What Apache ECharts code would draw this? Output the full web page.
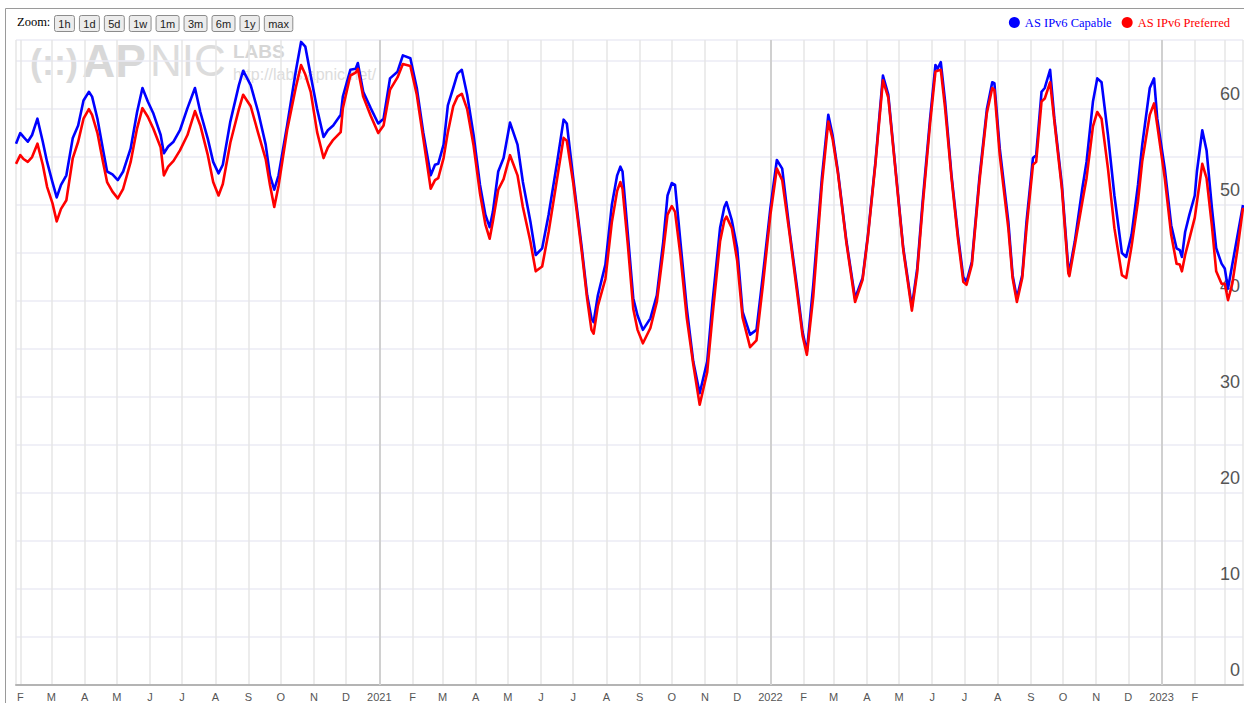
<!DOCTYPE html>
<html>
<head>
<meta charset="utf-8">
<title>AS IPv6 Capable / Preferred</title>
<script src="https://cdn.jsdelivr.net/npm/echarts@6.0.0/dist/echarts.min.js"></script>
<style>
  html, body { margin: 0; padding: 0; background: #fff; }
  #chart { width: 1244px; height: 703px; }
</style>
</head>
<body>
<div id="chart"></div>
<script>
// sample dates (at peaks, troughs and turns)
var dates = [
  '2020-01-28','2020-02-01','2020-02-04','2020-02-08','2020-02-12','2020-02-17','2020-02-22','2020-02-26',
  '2020-03-02','2020-03-06','2020-03-10','2020-03-15','2020-03-21','2020-03-26','2020-03-31','2020-04-05',
  '2020-04-08','2020-04-13','2020-04-18','2020-04-22','2020-04-27','2020-05-02','2020-05-07','2020-05-14',
  '2020-05-20','2020-05-25','2020-05-30','2020-06-04','2020-06-11','2020-06-14','2020-06-18','2020-06-23',
  '2020-06-29','2020-07-06','2020-07-13','2020-07-18','2020-07-25','2020-07-30','2020-08-04','2020-08-08',
  '2020-08-15','2020-08-23','2020-08-27','2020-09-03','2020-09-10','2020-09-17','2020-09-21','2020-09-25',
  '2020-09-29','2020-10-07','2020-10-15','2020-10-20','2020-10-24','2020-10-29','2020-11-04','2020-11-10',
  '2020-11-14','2020-11-19','2020-11-26','2020-11-28','2020-12-05','2020-12-10','2020-12-12','2020-12-17',
  '2020-12-24','2020-12-31','2021-01-05','2021-01-11','2021-01-18','2021-01-23','2021-01-30','2021-02-05',
  '2021-02-11','2021-02-18','2021-02-22','2021-02-25','2021-03-02','2021-03-06','2021-03-11','2021-03-15',
  '2021-03-19','2021-03-24','2021-03-30','2021-04-05','2021-04-10','2021-04-14','2021-04-17','2021-04-22',
  '2021-04-27','2021-05-03','2021-05-10','2021-05-15','2021-05-22','2021-05-27','2021-06-02','2021-06-08',
  '2021-06-16','2021-06-22','2021-06-25','2021-07-01','2021-07-09','2021-07-14','2021-07-18','2021-07-20',
  '2021-07-24','2021-07-31','2021-08-06','2021-08-11','2021-08-14','2021-08-16','2021-08-21','2021-08-26',
  '2021-08-30','2021-09-04','2021-09-11','2021-09-17','2021-09-23','2021-09-27','2021-10-01','2021-10-04',
  '2021-10-09','2021-10-15','2021-10-21','2021-10-27','2021-11-03','2021-11-08','2021-11-15','2021-11-19',
  '2021-11-21','2021-11-26','2021-12-01','2021-12-06','2021-12-13','2021-12-19','2021-12-25','2022-01-01',
  '2022-01-07','2022-01-12','2022-01-19','2022-01-26','2022-01-31','2022-02-04','2022-02-10','2022-02-18',
  '2022-02-24','2022-02-28','2022-03-05','2022-03-13','2022-03-21','2022-03-28','2022-04-02','2022-04-09',
  '2022-04-16','2022-04-21','2022-04-25','2022-05-05','2022-05-13','2022-05-18','2022-05-23','2022-05-30',
  '2022-06-04','2022-06-06','2022-06-09','2022-06-13','2022-06-19','2022-06-25','2022-06-30','2022-07-03',
  '2022-07-08','2022-07-15','2022-07-22','2022-07-27','2022-07-29','2022-08-03','2022-08-11','2022-08-15',
  '2022-08-19','2022-08-24','2022-08-28','2022-09-03','2022-09-06','2022-09-11','2022-09-14','2022-09-19',
  '2022-09-23','2022-09-30','2022-10-06','2022-10-07','2022-10-12','2022-10-19','2022-10-23','2022-10-29',
  '2022-11-02','2022-11-06','2022-11-12','2022-11-18','2022-11-25','2022-11-29','2022-12-04','2022-12-10',
  '2022-12-14','2022-12-21','2022-12-25','2022-12-28','2023-01-04','2023-01-10','2023-01-15','2023-01-18',
  '2023-01-20','2023-01-23','2023-01-27','2023-02-01','2023-02-03','2023-02-08','2023-02-12','2023-02-17',
  '2023-02-21','2023-02-26','2023-03-01','2023-03-04','2023-03-08','2023-03-13','2023-03-18'
];

var capable = [
  56.4,57.5,57.1,56.6,57.3,59.0,56.6,54.5, 52.4,50.8,52.1,53.1,57.0,58.3,60.9,61.8,
  61.3,59.0,55.9,53.5,53.2,52.6,53.5,55.9, 59.7,62.2,60.8,59.6,57.3,55.4,56.1,56.6,
  57.8,60.1,62.2,59.7,56.9,54.5,53.3,54.2, 58.7,62.5,64.0,62.5,59.7,56.3,53.1,51.6,
  53.1,58.3,63.9,67.0,66.5,63.5,60.0,57.1, 57.8,58.3,59.4,61.3,64.1,64.2,64.8,61.8,
  60.1,58.5,59.0,63.2,63.9,65.6,65.3,62.2, 57.6,53.1,54.2,54.3,56.3,60.4,62.2,63.7,
  64.1,61.5,57.3,52.1,49.0,47.7,49.3,53.5, 54.9,58.6,56.3,52.4,48.3,44.8,45.5,49.0,
  54.5,58.9,58.5,52.8,45.5,40.6,38.2,37.8, 40.6,43.8,50.0,53.1,54.0,53.5,46.9,40.3,
  38.5,37.0,38.2,40.6,46.2,51.0,52.3,52.1, 46.2,39.2,33.7,30.4,33.7,39.9,47.6,49.8,
  50.3,48.4,45.5,38.9,36.5,37.0,42.7,49.7, 54.7,53.8,47.2,41.3,36.8,34.7,41.7,52.8,
  59.4,57.3,53.5,46.2,40.3,42.4,46.9,54.5, 63.5,61.5,56.9,45.5,39.4,43.4,50.3,59.0,
  64.6,64.2,64.9,60.8,53.1,46.9,42.5,42.0, 44.1,52.8,60.0,62.8,62.7,55.9,48.3,42.7,
  40.3,42.7,48.3,54.9,55.2,61.8,62.2,64.1, 59.0,52.1,43.4,43.1,46.2,51.7,54.5,60.8,
  63.2,62.8,57.3,51.0,45.0,44.6,46.9,52.1, 56.3,62.2,63.2,59.0,53.8,47.9,45.5,45.3,
  44.6,47.2,49.0,51.0,53.5,57.8,55.7,49.7, 45.5,43.9,43.4,41.3,43.8,46.9,50.0
];

var preferred = [
  54.3,55.2,54.8,54.5,55.0,56.4,54.2,51.9, 50.2,48.3,49.6,50.5,54.9,56.6,59.0,60.0,
  59.4,57.5,54.6,52.4,51.4,50.7,51.7,54.5, 58.0,60.1,59.2,58.0,56.0,53.1,54.0,54.6,
  55.7,57.3,59.8,58.3,55.2,52.4,51.0,52.2, 56.5,60.0,61.5,60.3,57.5,54.8,52.1,49.8,
  52.0,57.8,62.2,64.6,63.6,61.8,57.6,54.9, 56.0,56.8,57.6,60.1,63.5,63.8,64.2,61.3,
  59.3,57.5,58.3,62.0,63.3,64.7,64.5,61.5, 57.0,51.7,52.6,52.8,54.9,57.6,60.3,61.3,
  61.6,60.0,56.2,51.2,48.0,46.5,48.3,51.6, 52.7,55.2,53.1,49.8,46.2,43.1,43.6,47.2,
  52.8,57.0,56.7,52.3,45.1,40.2,37.0,36.6, 39.5,42.3,48.2,51.5,52.4,51.7,45.8,39.2,
  37.0,35.6,37.2,39.9,45.2,49.0,49.9,49.3, 44.8,38.2,33.4,29.2,32.6,38.5,46.2,48.4,
  48.8,47.6,44.2,38.3,35.2,35.9,41.7,49.0, 53.8,52.6,46.9,40.8,36.4,34.4,40.5,52.1,
  58.7,56.9,53.3,46.0,39.9,42.2,46.7,54.3, 63.0,61.2,56.7,45.3,39.0,43.0,49.8,58.5,
  63.9,64.0,64.1,60.1,52.8,46.5,42.0,41.7, 43.8,52.4,59.6,62.2,62.0,55.2,47.6,42.4,
  39.9,42.4,47.6,54.2,54.5,60.8,61.1,62.8, 58.7,51.7,42.9,42.6,45.8,50.3,52.8,58.2,
  59.7,59.0,53.8,47.6,42.7,42.4,45.7,50.4, 54.6,59.4,60.6,58.3,52.8,46.9,43.9,43.8,
  43.1,44.8,46.5,48.7,50.3,54.3,52.8,47.8, 43.1,41.8,41.8,40.1,41.8,45.5,49.7
];

var yearStarts = ['2021-01-01', '2022-01-01', '2023-01-01'];
var monthLetters = ['J', 'F', 'M', 'A', 'M', 'J', 'J', 'A', 'S', 'O', 'N', 'D'];
var zoomLabels = ['1h', '1d', '5d', '1w', '1m', '3m', '6m', '1y', 'max'];
var xMin = '2020-01-28';
var xMax = '2023-03-18';
var lastLabel = '2023-02-01'; // the last month that gets a letter under the axis
var yMax = 67.2;

var DAY = 24 * 3600 * 1000;
var lastLabelTime = new Date(lastLabel + 'T00:00:00').getTime();

// zoom buttons along the top, widths from the text
var measure = document.createElement('canvas').getContext('2d');
measure.font = '11px "Liberation Sans", Arial, sans-serif';
var buttons = [];
var bx = 54;
zoomLabels.forEach(function (lab) {
  var w = measure.measureText(lab).width + 7.7;
  buttons.push({
    type: 'group', left: bx, top: 15,
    children: [
      { type: 'rect', shape: { x: 0.5, y: 0.5, width: w, height: 16, r: 2 },
        style: { fill: '#ececec', stroke: '#8c8c8c', lineWidth: 1 } },
      { type: 'text', style: { x: w / 2 + 0.5, y: 8.5, text: lab, align: 'center', verticalAlign: 'middle',
        font: '11px "Liberation Sans", Arial, sans-serif', fill: '#222' } }
    ]
  });
  bx += w + 5;
});

var chart = echarts.init(document.getElementById('chart'), null, { renderer: 'svg' });

chart.setOption({
  animation: false,
  textStyle: { fontFamily: '"Liberation Sans", Arial, sans-serif' },
  grid: { left: 16, right: 1, top: 40, bottom: 18 },
  legend: {
    right: 9, top: 11,
    icon: 'circle', itemWidth: 11, itemHeight: 11, itemGap: 10,
    textStyle: { fontFamily: '"Liberation Serif", "Times New Roman", serif', fontSize: 12.5 },
    data: [
      { name: 'AS IPv6 Capable', textStyle: { color: '#0000ff' } },
      { name: 'AS IPv6 Preferred', textStyle: { color: '#ff0000' } }
    ]
  },
  graphic: [
    { type: 'polyline', shape: { points: [[5.5, 703], [5.5, 8.5], [1244, 8.5]] },
      style: { stroke: '#9a9a9a', lineWidth: 1, fill: null } },
    { type: 'text', left: 17, top: 15,
      style: { text: 'Zoom:', font: '12.5px "Liberation Serif", "Times New Roman", serif', fill: '#000' } },
    // faint APNIC LABS watermark
    { type: 'text', left: 30, top: 44, z: 0,
      style: { text: '(::)', font: 'bold 36px "Liberation Sans", Arial, sans-serif', fill: '#dadada' } },
    { type: 'text', left: 82, top: 38, z: 0,
      style: { text: 'AP', font: 'bold 46px "Liberation Sans", Arial, sans-serif', fill: '#d8d8d8' } },
    { type: 'text', left: 150, top: 38, z: 0,
      style: { text: 'NIC', font: '44px "Liberation Sans Narrow", "Liberation Sans", Arial, sans-serif', fill: '#dcdcdc' } },
    { type: 'text', left: 233, top: 42, z: 0,
      style: { text: 'LABS', font: 'bold 19px "Liberation Sans", Arial, sans-serif', fill: '#d6d6d6' } },
    { type: 'text', left: 233, top: 66, z: 0,
      style: { text: 'http://labs.apnic.net/', font: '16px "Liberation Sans", Arial, sans-serif', fill: '#dcdcdc' } }
  ].concat(buttons),
  xAxis: {
    type: 'time',
    min: xMin, max: xMax,
    minInterval: 31 * DAY, maxInterval: 31 * DAY,
    axisLine: { lineStyle: { color: '#b4b4b4', width: 2 } },
    axisTick: { show: false },
    axisLabel: {
      color: '#555', fontSize: 11, margin: 6,
      formatter: function (value) {
        var d = new Date(value);
        if (d.getDate() !== 1 || value > lastLabelTime) return '';
        return d.getMonth() === 0 ? String(d.getFullYear()) : monthLetters[d.getMonth()];
      }
    },
    splitLine: { show: true, lineStyle: { color: '#e6e6e6', width: 1.5 } }
  },
  yAxis: {
    type: 'value', position: 'right',
    min: 0, max: yMax, interval: 5,
    axisLine: { show: false },
    axisTick: { show: false },
    axisLabel: {
      inside: true, margin: 3, color: '#555', fontSize: 18,
      verticalAlign: 'bottom', padding: [0, 0, 6, 0],
      formatter: function (v) { return v % 10 === 0 ? String(v) : ''; }
    },
    splitLine: { lineStyle: { color: '#ebebf4', width: 1.5 } }
  },
  series: [
    {
      name: 'AS IPv6 Capable', type: 'line', z: 2,
      data: dates.map(function (d, i) { return [d, capable[i]]; }),
      showSymbol: false, color: '#0000ff',
      lineStyle: { width: 2.6, color: '#0000ff', join: 'round' },
      markLine: {
        z: 1, silent: true, symbol: ['none', 'none'],
        label: { show: false },
        lineStyle: { color: '#d0d0d0', width: 2, type: 'solid' },
        data: yearStarts.map(function (d) { return { xAxis: d }; })
      }
    },
    {
      name: 'AS IPv6 Preferred', type: 'line', z: 3,
      data: dates.map(function (d, i) { return [d, preferred[i]]; }),
      showSymbol: false, color: '#ff0000',
      lineStyle: { width: 2.6, color: '#ff0000', join: 'round' }
    }
  ]
});
</script>
</body>
</html>
